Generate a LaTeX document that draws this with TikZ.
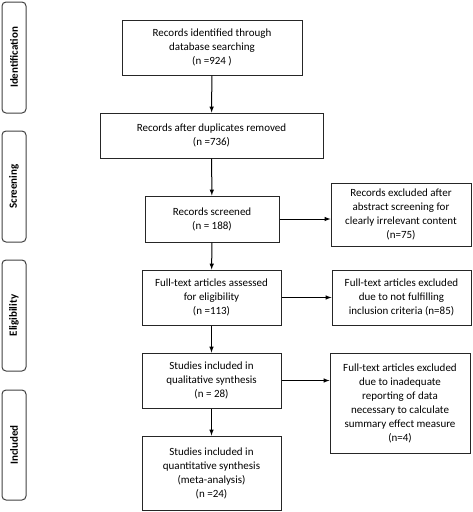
\documentclass[tikz,border=0pt]{standalone}
\usepackage{fontspec}
\setmainfont{Carlito}
\usepackage{tikz}
\usetikzlibrary{positioning}
\usetikzlibrary{arrows}
\usepackage{xcolor}

\begin{document}
\begin{tikzpicture}[x=1pt, y=-1pt,
  main/.style = {draw=black!85, line width=1pt, align=center, inner sep=2pt,
    font=\fontsize{11}{14}\selectfont, text=black},
  phase/.style = {draw=black!75, line width=1pt, rounded corners=4pt,
    minimum width=24pt, font=\bfseries\fontsize{11}{12}\selectfont, text=black},
  flow/.style = {-latex, line width=1pt, draw=black}]
\useasboundingbox (0,0) rectangle (472,512);
% phases
\node[phase, minimum height=111pt] (ident) at (14,57.5) {\rotatebox{90}{Identification}};
\node[phase, minimum height=111pt] (screen) at (14,186.5) {\rotatebox{90}{Screening}};
\node[phase, minimum height=111pt] (elig) at (14,315.5) {\rotatebox{90}{Eligibility}};
\node[phase, minimum height=110pt] (incl) at (14,445) {\rotatebox{90}{Included}};
% main column
\node[main, minimum width=180pt, minimum height=55pt] (1) at (212,47.5) {Records identified through\\database searching\\(n =924 )};
\node[main, minimum width=223pt, minimum height=45pt] (2) at (211.5,135.5) {Records after duplicates removed\\(n =736)};
\node[main, minimum width=134pt, minimum height=46pt] (3) at (212,219) {Records screened\\(n = 188)};
\node[main, minimum width=139pt, minimum height=55pt] (4) at (211.5,297.5) {Full-text articles assessed\\for eligibility\\(n =113)};
\node[main, minimum width=139pt, minimum height=55pt] (5) at (211.5,380.5) {Studies included in\\qualitative synthesis\\(n = 28)};
\node[main, minimum width=139pt, minimum height=74pt] (6) at (211.5,473) {Studies included in\\quantitative synthesis\\(meta-analysis)\\(n =24)};
% exclusions
\node[main, minimum width=140pt, minimum height=63pt] (e1) at (401,214.5) {Records excluded after\\abstract screening for\\clearly irrelevant content\\(n=75)};
\node[main, minimum width=139pt, minimum height=55pt] (e2) at (401.5,297.5) {Full-text articles excluded\\due to not fulfilling\\inclusion criteria (n=85)};
\node[main, minimum width=140pt, minimum height=100pt] (e3) at (400,403) {Full-text articles excluded\\due to inadequate\\reporting of data\\necessary to calculate\\summary effect measure\\(n=4)};
\path (1) edge [flow] (2);
\path (2) edge [flow] (3);
\path (3) edge [flow] (4);
\path (4) edge [flow] (5);
\path (5) edge [flow] (6);
\draw[flow] (3.east) -- (3.east -| e1.west);
\draw[flow] (4.east) -- (4.east -| e2.west);
\draw[flow] (5.east) -- (5.east -| e3.west);
\end{tikzpicture}
\end{document}
